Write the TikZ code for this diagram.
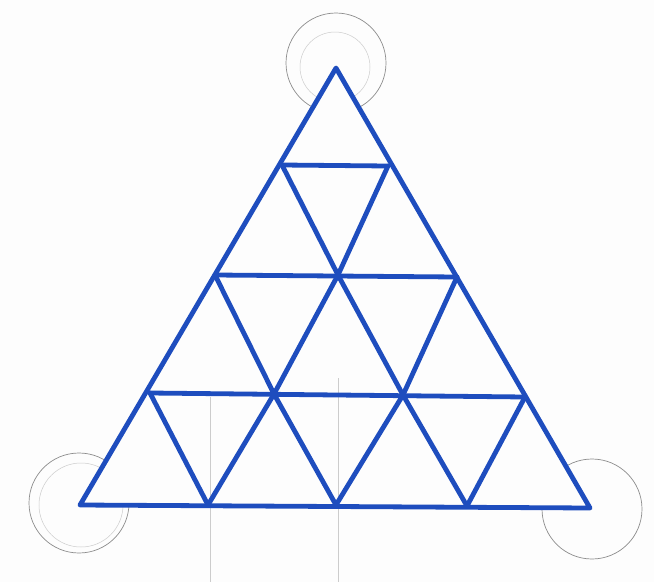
\documentclass[tikz,border=0pt]{standalone}
\begin{document}
\begin{tikzpicture}[x=1pt,y=-1pt,
  pencil/.style={draw=black!45,line width=0.7pt},
  faint/.style={draw=black!20,line width=0.5pt},
  ink/.style={draw=inkblue,line width=4.8pt,line cap=round,line join=round}]
\definecolor{inkblue}{HTML}{1E4DBE}
\definecolor{paper}{HTML}{FDFDFD}
\fill[paper] (0,0) rectangle (654,582);
\useasboundingbox (0,0) rectangle (654,582);
% points
\coordinate (A) at (336,68);
\coordinate (L1) at (282,165); \coordinate (R1) at (388,166);
\coordinate (L2) at (215,275); \coordinate (M2) at (338,275); \coordinate (R2) at (457,277);
\coordinate (L3) at (150,393); \coordinate (M3a) at (274,394); \coordinate (M3b) at (403,395); \coordinate (R3) at (525,397);
\coordinate (BL) at (80,505); \coordinate (B1) at (208,505); \coordinate (B2) at (336,505); \coordinate (B3) at (467,506); \coordinate (BR) at (590,508);
% pencil construction circles
\draw[pencil] (336,63) circle (50);
\draw[faint] (335,67) circle (35);
\draw[pencil] (79,503) circle (50);
\draw[faint] (81,505) circle (42);
\draw[pencil] (592,509) circle (50);
% triangle interior hides the circles
\fill[paper] (A) -- (BL) -- (BR) -- cycle;
% pencil verticals
\draw[faint] (210,397) -- (210,582);
\draw[faint] (338,378) -- (338,582);
% ink grid
\draw[ink] (A) -- (BL) -- (BR) -- cycle;
\draw[ink] (L1) -- (R1);
\draw[ink] (L2) -- (R2);
\draw[ink] (L3) -- (R3);
\draw[ink] (L1) -- (M2) -- (M3b) -- (B3);
\draw[ink] (L2) -- (M3a) -- (B2);
\draw[ink] (L3) -- (B1);
\draw[ink] (R1) -- (M2) -- (M3a) -- (B1);
\draw[ink] (R2) -- (M3b) -- (B2);
\draw[ink] (R3) -- (B3);
\end{tikzpicture}
\end{document}
